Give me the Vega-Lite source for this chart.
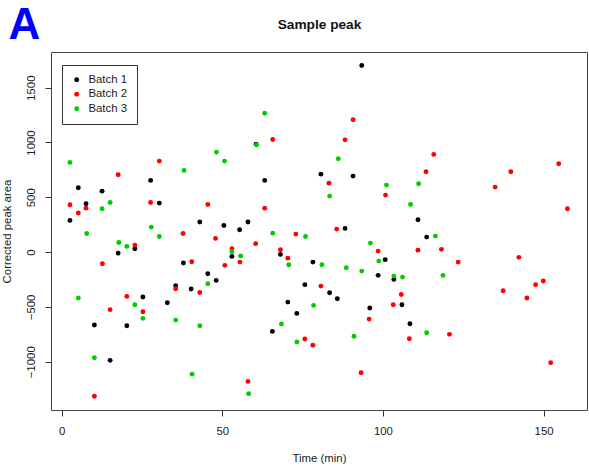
{
  "$schema": "https://vega.github.io/schema/vega-lite/v6.json",
  "width": 536,
  "height": 358,
  "autosize": {"type": "none"},
  "padding": {"left": 51, "top": 52, "right": 2, "bottom": 62},
  "background": "white",
  "config": {
    "view": {"stroke": "#444", "strokeWidth": 1},
    "font": "Liberation Sans",
    "axis": {"grid": false, "domain": false, "tickColor": "#333", "tickSize": 6, "labelColor": "#1a1a1a", "titleColor": "#1a1a1a", "labelFontSize": 11.4, "titleFontSize": 11.4, "titleFontWeight": "normal", "labelFont": "Liberation Sans", "titleFont": "Liberation Sans"}
  },
  "data": {"values": [
    {"batch": "Batch 1", "time": 2.6, "area": 289},
    {"batch": "Batch 1", "time": 5.2, "area": 587},
    {"batch": "Batch 1", "time": 7.6, "area": 441},
    {"batch": "Batch 1", "time": 12.6, "area": 556},
    {"batch": "Batch 1", "time": 27.7, "area": 654},
    {"batch": "Batch 1", "time": 30.4, "area": 447},
    {"batch": "Batch 1", "time": 43.0, "area": 274},
    {"batch": "Batch 1", "time": 17.6, "area": -9},
    {"batch": "Batch 1", "time": 22.8, "area": 31},
    {"batch": "Batch 1", "time": 37.9, "area": -100},
    {"batch": "Batch 1", "time": 35.5, "area": -307},
    {"batch": "Batch 1", "time": 40.3, "area": -337},
    {"batch": "Batch 1", "time": 25.3, "area": -410},
    {"batch": "Batch 1", "time": 32.9, "area": -462},
    {"batch": "Batch 1", "time": 10.2, "area": -665},
    {"batch": "Batch 1", "time": 20.3, "area": -671},
    {"batch": "Batch 1", "time": 15.1, "area": -987},
    {"batch": "Batch 1", "time": 93.4, "area": 1702},
    {"batch": "Batch 1", "time": 60.5, "area": 985},
    {"batch": "Batch 1", "time": 63.2, "area": 654},
    {"batch": "Batch 1", "time": 80.7, "area": 711},
    {"batch": "Batch 1", "time": 90.7, "area": 693},
    {"batch": "Batch 1", "time": 50.5, "area": 243},
    {"batch": "Batch 1", "time": 55.4, "area": 204},
    {"batch": "Batch 1", "time": 58.0, "area": 274},
    {"batch": "Batch 1", "time": 88.2, "area": 216},
    {"batch": "Batch 1", "time": 53.0, "area": -39},
    {"batch": "Batch 1", "time": 68.1, "area": -21},
    {"batch": "Batch 1", "time": 78.2, "area": -91},
    {"batch": "Batch 1", "time": 100.7, "area": -69},
    {"batch": "Batch 1", "time": 98.5, "area": -212},
    {"batch": "Batch 1", "time": 45.5, "area": -197},
    {"batch": "Batch 1", "time": 48.1, "area": -258},
    {"batch": "Batch 1", "time": 75.7, "area": -297},
    {"batch": "Batch 1", "time": 83.4, "area": -370},
    {"batch": "Batch 1", "time": 85.8, "area": -425},
    {"batch": "Batch 1", "time": 70.4, "area": -456},
    {"batch": "Batch 1", "time": 73.2, "area": -559},
    {"batch": "Batch 1", "time": 95.9, "area": -510},
    {"batch": "Batch 1", "time": 65.6, "area": -723},
    {"batch": "Batch 1", "time": 110.9, "area": 295},
    {"batch": "Batch 1", "time": 113.6, "area": 137},
    {"batch": "Batch 1", "time": 103.4, "area": -249},
    {"batch": "Batch 1", "time": 105.9, "area": -480},
    {"batch": "Batch 1", "time": 108.4, "area": -653},
    {"batch": "Batch 2", "time": 2.6, "area": 432},
    {"batch": "Batch 2", "time": 5.2, "area": 356},
    {"batch": "Batch 2", "time": 7.6, "area": 401},
    {"batch": "Batch 2", "time": 17.6, "area": 705},
    {"batch": "Batch 2", "time": 30.4, "area": 830},
    {"batch": "Batch 2", "time": 27.7, "area": 453},
    {"batch": "Batch 2", "time": 37.8, "area": 170},
    {"batch": "Batch 2", "time": 22.8, "area": 64},
    {"batch": "Batch 2", "time": 12.7, "area": -106},
    {"batch": "Batch 2", "time": 40.5, "area": -88},
    {"batch": "Batch 2", "time": 35.5, "area": -334},
    {"batch": "Batch 2", "time": 43.0, "area": -368},
    {"batch": "Batch 2", "time": 20.3, "area": -404},
    {"batch": "Batch 2", "time": 15.1, "area": -525},
    {"batch": "Batch 2", "time": 25.3, "area": -544},
    {"batch": "Batch 2", "time": 10.2, "area": -1315},
    {"batch": "Batch 2", "time": 90.7, "area": 1207},
    {"batch": "Batch 2", "time": 65.7, "area": 1027},
    {"batch": "Batch 2", "time": 88.2, "area": 1024},
    {"batch": "Batch 2", "time": 83.2, "area": 629},
    {"batch": "Batch 2", "time": 100.8, "area": 520},
    {"batch": "Batch 2", "time": 45.5, "area": 435},
    {"batch": "Batch 2", "time": 63.2, "area": 401},
    {"batch": "Batch 2", "time": 47.9, "area": 125},
    {"batch": "Batch 2", "time": 72.9, "area": 164},
    {"batch": "Batch 2", "time": 85.6, "area": 210},
    {"batch": "Batch 2", "time": 53.0, "area": 31},
    {"batch": "Batch 2", "time": 55.5, "area": -91},
    {"batch": "Batch 2", "time": 50.8, "area": -121},
    {"batch": "Batch 2", "time": 60.4, "area": 77},
    {"batch": "Batch 2", "time": 68.1, "area": 22},
    {"batch": "Batch 2", "time": 70.4, "area": -55},
    {"batch": "Batch 2", "time": 80.7, "area": -310},
    {"batch": "Batch 2", "time": 95.7, "area": -611},
    {"batch": "Batch 2", "time": 75.7, "area": -793},
    {"batch": "Batch 2", "time": 78.2, "area": -850},
    {"batch": "Batch 2", "time": 93.2, "area": -1100},
    {"batch": "Batch 2", "time": 58.0, "area": -1179},
    {"batch": "Batch 2", "time": 115.8, "area": 891},
    {"batch": "Batch 2", "time": 113.4, "area": 733},
    {"batch": "Batch 2", "time": 134.9, "area": 593},
    {"batch": "Batch 2", "time": 139.8, "area": 733},
    {"batch": "Batch 2", "time": 154.7, "area": 806},
    {"batch": "Batch 2", "time": 157.4, "area": 395},
    {"batch": "Batch 2", "time": 98.5, "area": 9},
    {"batch": "Batch 2", "time": 110.9, "area": 18},
    {"batch": "Batch 2", "time": 118.2, "area": 25},
    {"batch": "Batch 2", "time": 123.4, "area": -91},
    {"batch": "Batch 2", "time": 105.7, "area": -386},
    {"batch": "Batch 2", "time": 103.2, "area": -480},
    {"batch": "Batch 2", "time": 108.2, "area": -790},
    {"batch": "Batch 2", "time": 120.7, "area": -750},
    {"batch": "Batch 2", "time": 142.3, "area": -48},
    {"batch": "Batch 2", "time": 137.4, "area": -352},
    {"batch": "Batch 2", "time": 147.5, "area": -297},
    {"batch": "Batch 2", "time": 149.9, "area": -264},
    {"batch": "Batch 2", "time": 144.8, "area": -419},
    {"batch": "Batch 2", "time": 152.2, "area": -1008},
    {"batch": "Batch 3", "time": 2.6, "area": 818},
    {"batch": "Batch 3", "time": 12.6, "area": 395},
    {"batch": "Batch 3", "time": 15.1, "area": 453},
    {"batch": "Batch 3", "time": 38.1, "area": 745},
    {"batch": "Batch 3", "time": 27.9, "area": 228},
    {"batch": "Batch 3", "time": 30.4, "area": 143},
    {"batch": "Batch 3", "time": 7.8, "area": 170},
    {"batch": "Batch 3", "time": 17.8, "area": 88},
    {"batch": "Batch 3", "time": 20.3, "area": 52},
    {"batch": "Batch 3", "time": 5.2, "area": -419},
    {"batch": "Batch 3", "time": 22.8, "area": -480},
    {"batch": "Batch 3", "time": 25.3, "area": -604},
    {"batch": "Batch 3", "time": 35.5, "area": -620},
    {"batch": "Batch 3", "time": 43.0, "area": -671},
    {"batch": "Batch 3", "time": 10.2, "area": -963},
    {"batch": "Batch 3", "time": 40.6, "area": -1113},
    {"batch": "Batch 3", "time": 63.2, "area": 1267},
    {"batch": "Batch 3", "time": 60.7, "area": 979},
    {"batch": "Batch 3", "time": 48.2, "area": 912},
    {"batch": "Batch 3", "time": 50.7, "area": 830},
    {"batch": "Batch 3", "time": 86.1, "area": 851},
    {"batch": "Batch 3", "time": 83.4, "area": 511},
    {"batch": "Batch 3", "time": 101.1, "area": 611},
    {"batch": "Batch 3", "time": 65.7, "area": 173},
    {"batch": "Batch 3", "time": 75.9, "area": 143},
    {"batch": "Batch 3", "time": 53.0, "area": 6},
    {"batch": "Batch 3", "time": 55.7, "area": -36},
    {"batch": "Batch 3", "time": 70.7, "area": -115},
    {"batch": "Batch 3", "time": 81.0, "area": -115},
    {"batch": "Batch 3", "time": 88.6, "area": -142},
    {"batch": "Batch 3", "time": 93.4, "area": -173},
    {"batch": "Batch 3", "time": 96.1, "area": 82},
    {"batch": "Batch 3", "time": 98.7, "area": -82},
    {"batch": "Batch 3", "time": 45.5, "area": -288},
    {"batch": "Batch 3", "time": 78.4, "area": -486},
    {"batch": "Batch 3", "time": 68.4, "area": -656},
    {"batch": "Batch 3", "time": 91.0, "area": -768},
    {"batch": "Batch 3", "time": 73.2, "area": -820},
    {"batch": "Batch 3", "time": 58.2, "area": -1291},
    {"batch": "Batch 3", "time": 111.1, "area": 623},
    {"batch": "Batch 3", "time": 108.6, "area": 435},
    {"batch": "Batch 3", "time": 116.3, "area": 146},
    {"batch": "Batch 3", "time": 103.4, "area": -219},
    {"batch": "Batch 3", "time": 106.1, "area": -228},
    {"batch": "Batch 3", "time": 118.7, "area": -212},
    {"batch": "Batch 3", "time": 113.6, "area": -735}
  ]},
  "layer": [
    {
      "mark": {"type": "point", "filled": true, "size": 24, "opacity": 1, "strokeWidth": 0},
      "encoding": {
        "x": {"field": "time", "type": "quantitative",
          "scale": {"domain": [-3.3, 163.5], "nice": false, "zero": false},
          "axis": {"orient": "bottom", "values": [0, 50, 100, 150], "format": "d", "title": "Time (min)", "labelPadding": 9, "titleBaseline": "alphabetic", "titleY": 51, "titleAnchor": "middle"}},
        "y": {"field": "area", "type": "quantitative",
          "scale": {"domain": [-1440, 1825], "nice": false, "zero": false},
          "axis": {"orient": "left", "values": [-1000, -500, 0, 500, 1000, 1500], "format": "d", "title": "Corrected peak area", "labelAngle": 270, "labelAlign": "center", "labelBaseline": "alphabetic", "labelPadding": 11, "titleAngle": 270, "titleX": -41, "titleY": 179, "titleAlign": "center", "titleBaseline": "alphabetic"}},
        "color": {"field": "batch", "type": "nominal",
          "scale": {"domain": ["Batch 1", "Batch 2", "Batch 3"], "range": ["#000000", "#ff0000", "#00cd00"]},
          "legend": {"title": null, "orient": "none", "legendX": 11, "legendY": 13, "padding": 9, "strokeColor": "#333", "fillColor": "white", "symbolType": "circle", "symbolSize": 24, "symbolStrokeWidth": 0, "symbolOpacity": 1, "labelFontSize": 11.4, "labelColor": "#1a1a1a", "labelOffset": 6, "rowPadding": 1.5, "labelFont": "Liberation Sans"}}
      }
    },
    {
      "mark": {"type": "point", "opacity": 0},
      "encoding": {
        "x": {"field": "time", "type": "quantitative",
          "axis": {"orient": "top", "labels": false, "ticks": false, "domain": false, "title": "Sample peak", "titleFontSize": 13.7, "titleFontWeight": "bold", "titleX": 268, "titleY": -24, "titleAlign": "center", "titleBaseline": "alphabetic", "titleColor": "#111"}},
        "y": {"field": "area", "type": "quantitative",
          "axis": {"orient": "right", "labels": false, "ticks": false, "domain": false, "title": "A", "titleFontSize": 44, "titleFontWeight": "bold", "titleColor": "#0000ff", "titleAngle": 0, "titleX": -579, "titleY": -14, "titleAlign": "left", "titleBaseline": "alphabetic"}}
      }
    }
  ],
  "resolve": {"axis": {"x": "independent", "y": "independent"}}
}
